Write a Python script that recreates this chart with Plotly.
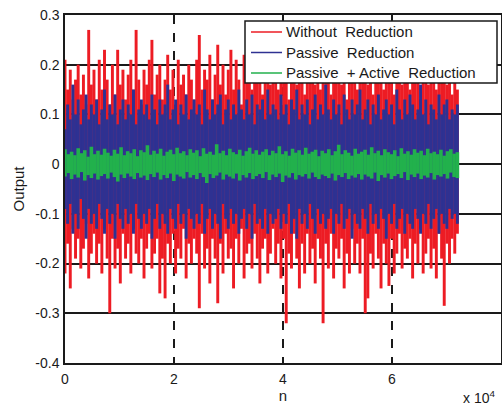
import plotly.graph_objects as go

# ---- data ----
n_end = 72000  # last sample index

red_up = [0.21, 0.15, 0.19, 0.13, 0.17, 0.20, 0.14, 0.18, 0.12, 0.27,
          0.16, 0.19, 0.13, 0.21, 0.15, 0.23, 0.17, 0.12, 0.20, 0.14,
          0.23, 0.16, 0.19, 0.13, 0.18, 0.21, 0.15, 0.27, 0.17, 0.12,
          0.19, 0.16, 0.21, 0.25, 0.14, 0.18, 0.20, 0.13, 0.17, 0.22,
          0.15, 0.19, 0.12, 0.21, 0.16, 0.18, 0.14, 0.20, 0.17, 0.13,
          0.21, 0.26, 0.15, 0.19, 0.17, 0.22, 0.13, 0.18, 0.24, 0.16,
          0.20, 0.14, 0.19, 0.23, 0.15, 0.21, 0.17, 0.12, 0.22, 0.18,
          0.20, 0.15, 0.23, 0.17, 0.19, 0.14, 0.21, 0.18, 0.16, 0.22,
          0.19, 0.15, 0.24, 0.17, 0.20, 0.13, 0.21, 0.18, 0.16, 0.23,
          0.19, 0.14, 0.21, 0.17, 0.22, 0.16, 0.20, 0.15, 0.24, 0.18,
          0.21, 0.14, 0.19, 0.17, 0.23, 0.16, 0.20, 0.13, 0.22, 0.18,
          0.19, 0.15, 0.21, 0.17, 0.24, 0.16, 0.20, 0.14, 0.22, 0.18,
          0.20, 0.15, 0.23, 0.17, 0.19, 0.14, 0.21, 0.18, 0.16, 0.22,
          0.19, 0.15, 0.21, 0.17, 0.20, 0.13, 0.22, 0.18, 0.16, 0.21,
          0.19, 0.15, 0.20, 0.17, 0.22, 0.16, 0.19, 0.14, 0.18, 0.15]
red_lo = [-0.22, -0.16, -0.25, -0.13, -0.19, -0.15, -0.21, -0.17, -0.12, -0.23,
          -0.18, -0.14, -0.20, -0.16, -0.22, -0.13, -0.19, -0.30, -0.15, -0.21,
          -0.17, -0.24, -0.14, -0.19, -0.16, -0.22, -0.13, -0.18, -0.20, -0.15,
          -0.23, -0.17, -0.14, -0.21, -0.18, -0.15, -0.26, -0.19, -0.27, -0.16,
          -0.20, -0.14, -0.22, -0.17, -0.19, -0.13, -0.23, -0.16, -0.20, -0.15,
          -0.18, -0.29, -0.14, -0.21, -0.17, -0.24, -0.15, -0.19, -0.28, -0.16,
          -0.22, -0.14, -0.19, -0.17, -0.25, -0.15, -0.20, -0.13, -0.23, -0.18,
          -0.16, -0.21, -0.14, -0.19, -0.24, -0.17, -0.15, -0.22, -0.18, -0.13,
          -0.20, -0.16, -0.23, -0.15, -0.32, -0.18, -0.21, -0.14, -0.19, -0.25,
          -0.16, -0.22, -0.14, -0.20, -0.17, -0.24, -0.15, -0.19, -0.32, -0.16,
          -0.21, -0.14, -0.23, -0.17, -0.19, -0.15, -0.25, -0.18, -0.22, -0.13,
          -0.20, -0.16, -0.22, -0.15, -0.30, -0.27, -0.18, -0.21, -0.14, -0.19,
          -0.25, -0.16, -0.20, -0.245, -0.15, -0.22, -0.18, -0.14, -0.21, -0.17,
          -0.19, -0.15, -0.23, -0.16, -0.20, -0.13, -0.22, -0.18, -0.15, -0.21,
          -0.17, -0.23, -0.14, -0.19, -0.285, -0.16, -0.20, -0.15, -0.18, -0.14]

blue_up = [0.07, 0.12, 0.09, 0.16, 0.10, 0.13, 0.08, 0.11, 0.14, 0.09,
           0.12, 0.10, 0.13, 0.08, 0.11, 0.15, 0.09, 0.12, 0.10, 0.14,
           0.08, 0.11, 0.13, 0.09, 0.12, 0.10, 0.15, 0.08, 0.11, 0.13,
           0.10, 0.12, 0.09, 0.14, 0.11, 0.08, 0.13, 0.10, 0.12, 0.16,
           0.09, 0.11, 0.13, 0.08, 0.12, 0.10, 0.14, 0.09, 0.11, 0.13,
           0.10, 0.12, 0.08, 0.15, 0.11, 0.09, 0.13, 0.10, 0.12, 0.14,
           0.08, 0.11, 0.13, 0.09, 0.12, 0.10, 0.15, 0.11, 0.09, 0.13,
           0.10, 0.14, 0.08, 0.12, 0.11, 0.13, 0.09, 0.15, 0.10, 0.12,
           0.11, 0.09, 0.14, 0.10, 0.12, 0.08, 0.13, 0.11, 0.15, 0.09,
           0.12, 0.10, 0.13, 0.08, 0.11, 0.14, 0.09, 0.12, 0.10, 0.16,
           0.11, 0.09, 0.13, 0.10, 0.12, 0.08, 0.14, 0.11, 0.09, 0.13,
           0.10, 0.12, 0.15, 0.09, 0.11, 0.13, 0.08, 0.12, 0.10, 0.14,
           0.09, 0.11, 0.13, 0.10, 0.12, 0.08, 0.15, 0.11, 0.09, 0.13,
           0.10, 0.14, 0.12, 0.09, 0.11, 0.16, 0.10, 0.13, 0.08, 0.12,
           0.11, 0.09, 0.14, 0.10, 0.12, 0.13, 0.09, 0.11, 0.10, 0.12]
blue_lo = [-0.09, -0.12, -0.08, -0.14, -0.10, -0.13, -0.07, -0.11, -0.15, -0.09,
           -0.12, -0.10, -0.13, -0.08, -0.11, -0.14, -0.09, -0.12, -0.10, -0.15,
           -0.08, -0.11, -0.13, -0.09, -0.12, -0.10, -0.14, -0.08, -0.11, -0.13,
           -0.10, -0.12, -0.09, -0.15, -0.11, -0.08, -0.13, -0.10, -0.12, -0.14,
           -0.09, -0.11, -0.13, -0.08, -0.12, -0.10, -0.15, -0.09, -0.11, -0.13,
           -0.10, -0.12, -0.08, -0.14, -0.11, -0.09, -0.13, -0.10, -0.12, -0.15,
           -0.08, -0.11, -0.13, -0.09, -0.12, -0.10, -0.14, -0.11, -0.09, -0.13,
           -0.10, -0.15, -0.08, -0.12, -0.11, -0.13, -0.09, -0.14, -0.10, -0.12,
           -0.11, -0.09, -0.13, -0.10, -0.12, -0.08, -0.14, -0.11, -0.15, -0.09,
           -0.12, -0.10, -0.13, -0.08, -0.11, -0.14, -0.09, -0.12, -0.10, -0.13,
           -0.11, -0.09, -0.14, -0.10, -0.12, -0.08, -0.13, -0.11, -0.09, -0.15,
           -0.10, -0.12, -0.13, -0.09, -0.11, -0.14, -0.08, -0.12, -0.10, -0.13,
           -0.09, -0.11, -0.15, -0.10, -0.12, -0.08, -0.13, -0.11, -0.09, -0.14,
           -0.10, -0.12, -0.13, -0.09, -0.11, -0.14, -0.10, -0.12, -0.08, -0.13,
           -0.11, -0.09, -0.14, -0.10, -0.12, -0.13, -0.09, -0.11, -0.10, -0.12]

green_up = [0.03, 0.02, 0.025, 0.018, 0.032, 0.022, 0.028, 0.015, 0.035, 0.02,
            0.027, 0.019, 0.031, 0.023, 0.017, 0.029, 0.021, 0.034, 0.018, 0.026,
            0.022, 0.03, 0.016, 0.028, 0.024, 0.038, 0.019, 0.027, 0.021, 0.031,
            0.017, 0.025, 0.029, 0.02, 0.033, 0.022, 0.026, 0.018, 0.03, 0.023,
            0.028, 0.016, 0.032, 0.021, 0.025, 0.019, 0.04, 0.022, 0.027, 0.018,
            0.031, 0.024, 0.02, 0.029, 0.017, 0.026, 0.033, 0.021, 0.028, 0.019,
            0.025, 0.03, 0.018, 0.027, 0.022, 0.036, 0.02, 0.026, 0.017, 0.031,
            0.023, 0.028, 0.019, 0.033, 0.021, 0.025, 0.029, 0.016, 0.027, 0.022,
            0.03, 0.018, 0.026, 0.039, 0.02, 0.028, 0.023, 0.017, 0.031, 0.021,
            0.025, 0.029, 0.019, 0.034, 0.022, 0.027, 0.018, 0.03, 0.024, 0.02,
            0.028, 0.016, 0.032, 0.021, 0.026, 0.019, 0.03, 0.023, 0.027, 0.018,
            0.031, 0.022, 0.025, 0.02, 0.029, 0.017, 0.026, 0.03, 0.021, 0.024]
green_lo = [-0.025, -0.018, -0.03, -0.021, -0.027, -0.016, -0.033, -0.022, -0.028, -0.019,
            -0.031, -0.024, -0.02, -0.029, -0.017, -0.026, -0.035, -0.021, -0.028, -0.019,
            -0.025, -0.03, -0.018, -0.027, -0.023, -0.032, -0.02, -0.026, -0.017, -0.031,
            -0.022, -0.028, -0.019, -0.034, -0.021, -0.025, -0.029, -0.016, -0.027, -0.022,
            -0.03, -0.018, -0.026, -0.038, -0.02, -0.028, -0.023, -0.017, -0.031, -0.021,
            -0.025, -0.029, -0.019, -0.033, -0.022, -0.027, -0.018, -0.03, -0.024, -0.02,
            -0.028, -0.016, -0.032, -0.021, -0.026, -0.019, -0.036, -0.023, -0.027, -0.018,
            -0.031, -0.022, -0.025, -0.02, -0.029, -0.017, -0.026, -0.03, -0.021, -0.024,
            -0.028, -0.019, -0.033, -0.022, -0.026, -0.018, -0.03, -0.023, -0.027, -0.02,
            -0.031, -0.021, -0.025, -0.029, -0.017, -0.034, -0.022, -0.027, -0.019, -0.03,
            -0.024, -0.02, -0.028, -0.016, -0.032, -0.021, -0.026, -0.019, -0.03, -0.023,
            -0.027, -0.018, -0.031, -0.022, -0.025, -0.02, -0.029, -0.017, -0.026, -0.028]

series_names = ["Without\u00a0 Reduction", "Passive\u00a0 Reduction",
                "Passive\u00a0 + Active\u00a0 Reduction"]
series_colors = ["#ED1C24", "#2E3192", "#22B14C"]

x_tickvals = [0, 20000, 40000, 60000, 80000]
x_ticktext = ["0", "2", "4", "6", "8"]
y_tickvals = [0.3, 0.2, 0.1, 0, -0.1, -0.2, -0.3, -0.4]
y_ticktext = ["0.3", "0.2", "0.1", "0", "-0.1", "-0.2", "-0.3", "-0.4"]

# ---- layout geometry (pixels) ----
W, H = 502, 405
ML, MR, MT, MB = 65, 1, 15, 42
PW, PH = W - ML - MR, H - MT - MB


def px_x(p):  # pixel column -> paper x
    return (p - ML) / PW


def px_y(p):  # pixel row -> paper y
    return (H - MB - p) / PH


def envelope_segments(up, lo):
    """Each sample bin drawn as a vertical stroke from its min to its max."""
    k = len(up)
    xs, ys = [], []
    for i, (a, b) in enumerate(zip(up, lo)):
        n = i * n_end / (k - 1)
        xs.extend([n, n, None])
        ys.extend([b, a, None])
    return xs, ys, k


fig = go.Figure()
data_px = PW * n_end / 80000
for (up, lo), name, col in zip([(red_up, red_lo), (blue_up, blue_lo), (green_up, green_lo)],
                               series_names, series_colors):
    xs, ys, k = envelope_segments(up, lo)
    w = data_px / (k - 1) + 0.3
    fig.add_trace(go.Scatter(x=xs, y=ys, mode="lines", name=name, showlegend=False,
                             line=dict(color=col, width=w), hoverinfo="skip"))

ink = "#1a1a1a"
font = "Liberation Sans, Arial, sans-serif"

# legend box (drawn as shapes + text so it matches the reference's compact key)
shapes = [dict(type="rect", xref="paper", yref="paper",
               x0=px_x(245), x1=px_x(497), y0=px_y(83), y1=px_y(21),
               fillcolor="white", line=dict(color=ink, width=1.5), layer="above")]
annotations = []
for j, (name, col) in enumerate(zip(series_names, series_colors)):
    yy = px_y(32 + j * 20.5)
    shapes.append(dict(type="line", xref="paper", yref="paper",
                       x0=px_x(251), x1=px_x(282), y0=yy, y1=yy,
                       line=dict(color=col, width=1.5), layer="above"))
    annotations.append(dict(text=name, xref="paper", yref="paper", x=px_x(284), y=yy,
                            xanchor="left", yanchor="middle", showarrow=False,
                            font=dict(size=15, color=ink)))
annotations.append(dict(text="x 10<sup>4</sup>", xref="paper", yref="paper",
                        x=px_x(461), y=px_y(397), xanchor="left", yanchor="middle",
                        showarrow=False, font=dict(size=14, color=ink)))

fig.update_layout(
    width=W, height=H,
    margin=dict(l=ML, r=MR, t=MT, b=MB),
    paper_bgcolor="white", plot_bgcolor="white",
    font=dict(family=font, size=14, color=ink),
    showlegend=False,
    shapes=shapes,
    annotations=annotations,
)
fig.update_xaxes(range=[0, 80000], tickvals=x_tickvals, ticktext=x_ticktext,
                 showgrid=True, gridcolor=ink, gridwidth=1.5, griddash="dash",
                 zeroline=False, showline=True, linecolor=ink, linewidth=1.5,
                 mirror=True, ticks="", automargin=False, ticklabelstandoff=2,
                 title=dict(text="n", standoff=0, font=dict(size=15)))
fig.update_yaxes(range=[-0.4, 0.3], tickvals=y_tickvals, ticktext=y_ticktext,
                 showgrid=True, gridcolor=ink, gridwidth=1.5,
                 zeroline=False, showline=True, linecolor=ink, linewidth=1.5,
                 mirror=True, ticks="", automargin=False, ticklabelstandoff=1,
                 title=dict(text="Output", standoff=7, font=dict(size=15)))

fig.write_html("out.html", config={"displayModeBar": False},
               post_script="document.body.style.margin='0px';"
                           "document.body.style.overflow='hidden';")
